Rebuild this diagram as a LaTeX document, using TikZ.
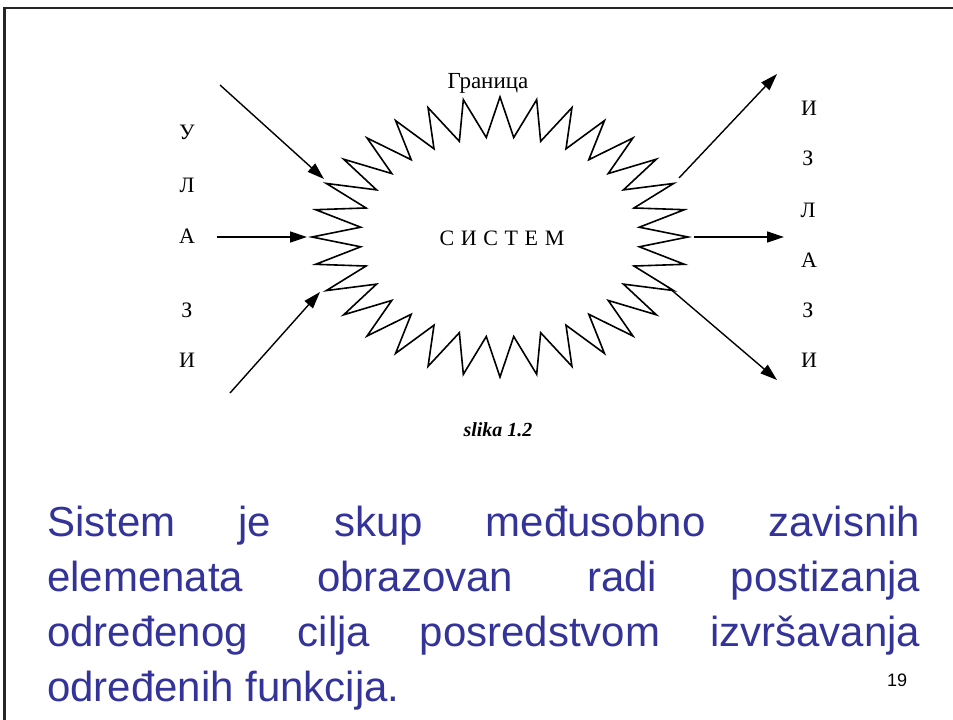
\documentclass[tikz,border=0pt]{standalone}
\usepackage{fontspec}
\setmainfont{Liberation Serif}
\setsansfont{Liberation Sans}
\newfontfamily\spacedfont[LetterSpace=30]{Liberation Serif}
\usetikzlibrary{arrows.meta}
\definecolor{slideblue}{RGB}{51,51,153}

\begin{document}
\begin{tikzpicture}[x=1pt, y=-1pt,
    lbl/.style={font=\fontsize{22}{22}\selectfont, inner sep=0pt},
    arr/.style={line width=1.4pt, -{Triangle[length=17pt,width=11pt]}},
    zig/.style={line width=1.6pt, line join=miter}]
  \useasboundingbox (0,0) rectangle (953,720);
  \draw[line width=2.5pt, black!85] (4.5,720) -- (4.5,8) -- (953,8); % slide frame

  % boundary, 32 teeth
  \foreach \i in {0,...,63} {
    \pgfmathsetmacro\ang{\i*5.625}
    \pgfmathsetmacro\rx{ifthenelse(mod(\i,2)==0,188,140)}
    \pgfmathsetmacro\ry{ifthenelse(mod(\i,2)==0,140,100)}
    \coordinate (z\i) at ({500+\rx*cos(\ang)},{237-\ry*sin(\ang)});
  }
  \draw[zig] (z0) \foreach \i in {1,...,63} {-- (z\i)} -- cycle;

  \node[font=\spacedfont\fontsize{22}{22}\selectfont] (sys) at (502,238) {СИСТЕМ};
  \node[font=\fontsize{23}{23}\selectfont, anchor=base] (gran) at (488,88) {Граница};

  % inputs
  \node[lbl] (u1) at (187,132) {У};
  \node[lbl] (u2) at (187,185) {Л};
  \node[lbl] (u3) at (187,236) {А};
  \node[lbl] (u4) at (187,310) {З};
  \node[lbl] (u5) at (187,360) {И};
  \coordinate (ia) at (220,85);  \coordinate (ib) at (324,179);
  \coordinate (ic) at (217,237); \coordinate (id) at (307,237);
  \coordinate (ie) at (230,393); \coordinate (if) at (320,292);
  \draw[arr] (ia) -- (ib);
  \draw[arr] (ic) -- (id);
  \draw[arr] (ie) -- (if);

  % outputs
  \node[lbl] (o1) at (809,108) {И};
  \node[lbl] (o2) at (808,158) {З};
  \node[lbl] (o3) at (808,210) {Л};
  \node[lbl] (o4) at (809,260) {А};
  \node[lbl] (o5) at (808,310) {З};
  \node[lbl] (o6) at (809,360) {И};
  \coordinate (oa) at (679,178); \coordinate (ob) at (777,74);
  \coordinate (oc) at (694,237); \coordinate (od) at (784,237);
  \coordinate (oe) at (668,287); \coordinate (of) at (777,380);
  \draw[arr] (oa) -- (ob);
  \draw[arr] (oc) -- (od);
  \draw[arr] (oe) -- (of);

  \node[font=\bfseries\itshape\fontsize{20}{20}\selectfont] (cap) at (498,430) {slika 1.2};

  \node[anchor=north west, inner sep=0pt, text width=873pt, align=justify,
        text=slideblue, font=\sffamily\fontsize{42}{55}\selectfont] (def) at (47,506)
    {Sistem je skup međusobno zavisnih\linebreak
     elemenata obrazovan radi postizanja\linebreak
     određenog cilja posredstvom izvršavanja\linebreak
     određenih funkcija.};
  \node[font=\sffamily\fontsize{18}{18}\selectfont] (pg) at (897,680) {19};
\end{tikzpicture}
\end{document}
